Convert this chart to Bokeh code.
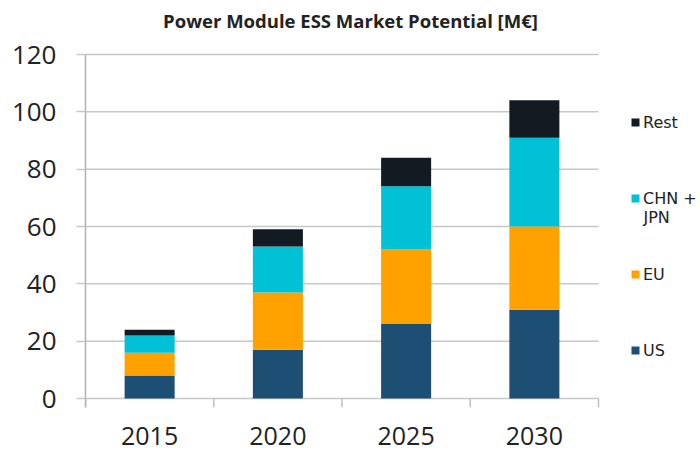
from bokeh.plotting import figure
from bokeh.models import (Range1d, FixedTicker, Legend, LegendItem, Label,
                          ColumnDataSource)
from bokeh.embed import file_html
from bokeh.resources import INLINE

years = ["2015", "2020", "2025", "2030"]
us = [8, 17, 26, 31]
eu = [8, 20, 26, 29]
chn_jpn = [6, 16, 22, 31]
rest = [2, 6, 10, 13]
series_keys = ["us", "eu", "cj", "rest"]
series_names = ["US", "EU", "CHN +", "Rest"]
colors = ["#1d4e73", "#ffa200", "#00c1d6", "#131a22"]
y_ticks = [0, 20, 40, 60, 80, 100, 120]
title_text = "Power Module ESS Market Potential [M€]"

W, H = 700, 450
FL, FR, FB = 85, 700, 407                   # frame box inside the figure (top = 0)
Y120 = 54                                   # pixel row of the top tick
CAT_W = 128.25                              # pixels per category slot
y_max = 120
px_per_unit = (FB - 9 - Y120) / y_max
y_min = -9 / px_per_unit
y_top = y_max + Y120 / px_per_unit
x_end = (FR - FL) / CAT_W
n = len(years)

xpos = [i + 0.5 for i in range(n)]
src = ColumnDataSource(dict(x=xpos, year=years, us=us, eu=eu, cj=chn_jpn, rest=rest))

p = figure(width=W, height=H, x_range=Range1d(0, x_end),
           y_range=Range1d(y_min, y_top), output_backend="svg",
           toolbar_location=None, min_border_left=FL, min_border_right=W - FR,
           min_border_top=0, min_border_bottom=H - FB)
p.outline_line_color = None
p.background_fill_color = "white"

grid_col = "#c8c8c8"
# horizontal gridlines spanning only the category area
p.segment(x0=[0] * len(y_ticks), x1=[n] * len(y_ticks), y0=y_ticks, y1=y_ticks,
          line_color=grid_col, line_width=1.5)
# category boundary ticks below the zero line
bounds = list(range(n + 1))
p.segment(x0=bounds, x1=bounds, y0=[0] * len(bounds), y1=[y_min] * len(bounds),
          line_color="#c0c0c0", line_width=1.5)

rs = p.vbar_stack(series_keys, x="x", width=0.39, source=src, color=colors,
                  line_color=None)

p.xgrid.visible = False
p.ygrid.visible = False

ya = p.yaxis[0]
ya.ticker = FixedTicker(ticks=y_ticks)
ya.bounds = (y_min, y_max)
ya.axis_line_color = "#b0b0b0"
ya.axis_line_width = 1.5
ya.major_tick_line_color = grid_col
ya.major_tick_line_width = 1.5
ya.major_tick_out = 9
ya.major_tick_in = 0
ya.minor_tick_line_color = None
ya.major_label_text_font = "Open Sans"
ya.major_label_text_font_size = "26px"
ya.major_label_text_color = "#222222"
ya.major_label_standoff = 20

xa = p.xaxis[0]
xa.ticker = FixedTicker(ticks=xpos)
xa.major_label_overrides = {x: y for x, y in zip(xpos, years)}
xa.axis_line_color = None
xa.major_tick_line_color = None
xa.minor_tick_line_color = None
xa.major_label_text_font = "Open Sans"
xa.major_label_text_font_size = "25px"
xa.major_label_text_color = "#222222"
xa.major_label_standoff = 13

# chart title, centred on the page near the top edge
p.add_layout(Label(x=W / 2 - FL, y=FB - 20, x_units="screen", y_units="screen",
                   text=title_text, text_align="center",
                   text_baseline="alphabetic", text_font="Open Sans",
                   text_font_style="bold", text_font_size="18.5px",
                   text_color="#222222"))

items = [LegendItem(label=nm, renderers=[r]) for nm, r in zip(series_names, rs)]
items.reverse()
leg = Legend(items=items, location=(545, 47), padding=0, margin=0,
             border_line_color=None, background_fill_alpha=0,
             glyph_width=10, glyph_height=10, label_height=20, spacing=56,
             label_standoff=3, label_text_font="DejaVu Sans",
             label_text_font_size="16px", label_text_color="#222222")
p.add_layout(leg)
p.add_layout(Label(x=558, y=190, x_units="screen", y_units="screen", text="JPN",
                   text_font="DejaVu Sans", text_font_size="16px",
                   text_color="#222222", text_baseline="middle"))

open("out.html", "w").write(file_html(p, INLINE))
